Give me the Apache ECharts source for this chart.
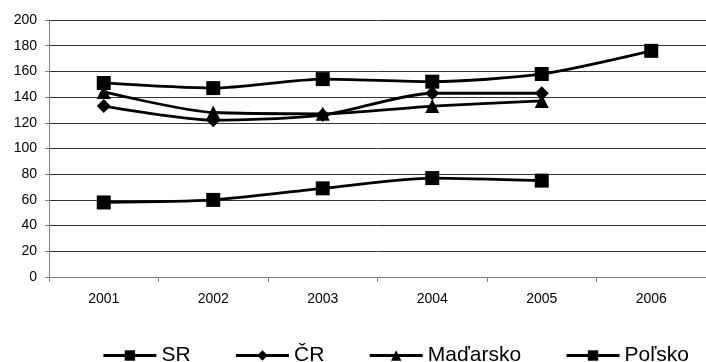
<!DOCTYPE html>
<html>
<head>
<meta charset="utf-8">
<script src="https://cdn.jsdelivr.net/npm/echarts@6/dist/echarts.min.js"></script>
<style>
  html, body { margin: 0; padding: 0; background: #fff; }
  #chart { width: 706px; height: 362px; }
</style>
</head>
<body>
<div id="chart"></div>
<script>
// Years on the category axis
var years = ['2001', '2002', '2003', '2004', '2005', '2006'];

// Series values per country
var srValues       = [151, 147, 154, 152, 158, 176];
var crValues       = [133, 122, 126, 143, 143];
var madarskoValues = [144, 128, 127, 133, 137];
var polskoValues   = [58, 60, 69, 77, 75];

// Value-axis ticks
var yMin = 0, yMax = 200, yStep = 20;

var font = 'Liberation Sans, Arial, sans-serif';

function lineSeries(name, data, symbol, size) {
  return {
    name: name,
    type: 'line',
    data: data,
    smooth: 0.25,
    symbol: symbol,
    symbolSize: size,
    showAllSymbol: true,
    lineStyle: { color: '#000', width: 2.8 },
    itemStyle: { color: '#000', borderWidth: 0 },
    emphasis: { disabled: true },
    z: 3
  };
}

var chart = echarts.init(document.getElementById('chart'), null, { renderer: 'canvas' });
chart.setOption({
  animation: false,
  backgroundColor: '#fff',
  grid: { left: 49, top: 20, width: 666, bottom: 85, containLabel: false },
  xAxis: {
    type: 'category',
    data: years,
    boundaryGap: true,
    axisLine: { lineStyle: { color: '#808080', width: 1 } },
    axisTick: { show: true, length: 5, lineStyle: { color: '#808080' } },
    axisLabel: { color: '#000', fontFamily: font, fontSize: 14, margin: 15 },
    splitLine: { show: false }
  },
  yAxis: {
    type: 'value',
    min: yMin,
    max: yMax,
    interval: yStep,
    axisLine: { show: true, lineStyle: { color: '#808080', width: 1 } },
    axisTick: { show: true, length: 4, lineStyle: { color: '#808080' } },
    axisLabel: { color: '#000', fontFamily: font, fontSize: 14, margin: 12 },
    splitLine: { show: true, lineStyle: { color: '#333', width: 1 } }
  },
  legend: {
    top: 345,
    left: 102,
    padding: 0,
    itemWidth: 53,
    itemHeight: 13,
    itemGap: 44,
    lineStyle: { width: 2.8 },
    textStyle: { color: '#000', fontFamily: font, fontSize: 21 },
    data: ['SR', 'ČR', 'Maďarsko', 'Poľsko']
  },
  series: [
    lineSeries('SR', srValues, 'rect', 14),
    lineSeries('ČR', crValues, 'diamond', 14),
    lineSeries('Maďarsko', madarskoValues, 'triangle', 14),
    lineSeries('Poľsko', polskoValues, 'rect', 14)
  ]
});
</script>
</body>
</html>
